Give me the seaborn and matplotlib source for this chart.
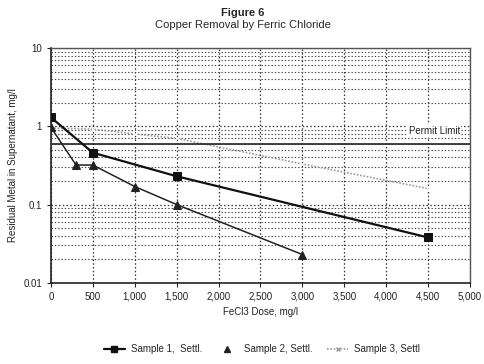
import numpy as np
import pandas as pd
import matplotlib
matplotlib.use("Agg")
import matplotlib.pyplot as plt
from matplotlib.lines import Line2D
from matplotlib.ticker import FixedLocator, FuncFormatter, LogLocator, NullFormatter
import seaborn as sns

# Residual copper vs. ferric chloride dose
dose_s1 = [0, 500, 1500, 4500]
resid_s1 = [1.30, 0.46, 0.23, 0.038]

dose_s2 = [0, 300, 500, 1000, 1500, 3000]
resid_s2 = [0.97, 0.32, 0.32, 0.17, 0.10, 0.023]

dose_s3 = [0, 500, 1000, 1500, 3000, 4500]
resid_s3 = [0.95, 0.92, 0.80, 0.70, 0.33, 0.16]

permit_limit = 0.6

series_names = ["Sample 1,  Settl.", "Sample 2, Settl.", "Sample 3, Settl"]
x_ticks = [0, 500, 1000, 1500, 2000, 2500, 3000, 3500, 4000, 4500, 5000]
y_ticks = [0.01, 0.1, 1, 10]
y_tick_labels = ["0.01", "0.1", "1", "10"]

df = pd.concat([
    pd.DataFrame({"dose": dose_s1, "resid": resid_s1, "series": series_names[0]}),
    pd.DataFrame({"dose": dose_s2, "resid": resid_s2, "series": series_names[1]}),
    pd.DataFrame({"dose": dose_s3, "resid": resid_s3, "series": series_names[2]}),
], ignore_index=True)

sns.set_style("white")
plt.rcParams["font.family"] = ["Liberation Sans", "DejaVu Sans"]

fig = plt.figure(figsize=(4.85, 3.64), dpi=100)
ax = fig.add_axes([0.105, 0.223, 0.864, 0.645])

ax.set_yscale("log")
ax.set_xlim(0, 5000)
ax.set_ylim(0.01, 10)

# grid: dotted majors and minors
ax.xaxis.set_major_locator(FixedLocator(x_ticks))
ax.yaxis.set_major_locator(FixedLocator(y_ticks))
ax.yaxis.set_minor_locator(LogLocator(base=10, subs=np.arange(2, 10)))
ax.yaxis.set_minor_formatter(NullFormatter())
ax.grid(True, which="major", axis="both", linestyle=(0, (1.2, 1.8)), color="#333333", linewidth=0.9)
ax.grid(True, which="minor", axis="y", linestyle=(0, (1.2, 1.8)), color="#444444", linewidth=0.8)
ax.set_axisbelow(True)

sub = df[df.series == series_names[2]]
sns.lineplot(data=sub, x="dose", y="resid", ax=ax, color="#9a9a9a", linestyle=(0, (1, 1)),
             linewidth=1.2, marker="x", markersize=3, markeredgewidth=0.8, legend=False,
             zorder=3)
sub = df[df.series == series_names[0]]
sns.lineplot(data=sub, x="dose", y="resid", ax=ax, color="#111111", linewidth=1.6,
             marker="s", markersize=6, markeredgecolor="#111111", legend=False, zorder=4)
sub = df[df.series == series_names[1]]
sns.lineplot(data=sub, x="dose", y="resid", ax=ax, color="#222222", linewidth=1.1,
             marker="^", markersize=6, markeredgecolor="#222222", legend=False, zorder=4)

ax.axhline(permit_limit, color="#333333", linewidth=1.3, zorder=3)
ax.text(4880, 0.88, "Permit Limit", ha="right", va="center", fontsize=7, color="#222222",
        bbox=dict(facecolor="white", edgecolor="none", pad=1.0), zorder=5)

ax.xaxis.set_major_formatter(FuncFormatter(lambda v, p: f"{int(v):,}"))
ax.set_yticklabels(y_tick_labels)
ax.tick_params(axis="both", which="major", labelsize=7, length=3, width=0.8,
               direction="out", colors="#222222", bottom=True, left=True)
ax.tick_params(axis="y", which="minor", length=0)

for side in ["left", "bottom"]:
    ax.spines[side].set_color("#222222")
    ax.spines[side].set_linewidth(1.2)
for side in ["top", "right"]:
    ax.spines[side].set_color("#555555")
    ax.spines[side].set_linewidth(1.0)

ax.set_xlabel("FeCl3 Dose, mg/l", fontsize=7, labelpad=4, color="#222222")
ax.set_ylabel("Residual Metal in Supernatant, mg/l", fontsize=7, labelpad=4, color="#222222")

fig.text(0.5, 0.965, "Figure 6", ha="center", va="center", fontsize=8, fontweight="bold")
fig.text(0.5, 0.931, "Copper Removal by Ferric Chloride", ha="center", va="center", fontsize=8)

handles = [
    Line2D([], [], color="#111111", linewidth=1.6, marker="s", markersize=5),
    Line2D([], [], color="#222222", linestyle="none", marker="^", markersize=5),
    Line2D([], [], color="#9a9a9a", linestyle=(0, (1, 1)), linewidth=1.2, marker="x",
           markersize=3),
]
fig.legend(handles, series_names, loc="center", bbox_to_anchor=(0.54, 0.04), ncol=3,
           frameon=False, fontsize=7, handlelength=2.2, columnspacing=1.5, handletextpad=0.6)

fig.savefig("out.png", dpi=100)
